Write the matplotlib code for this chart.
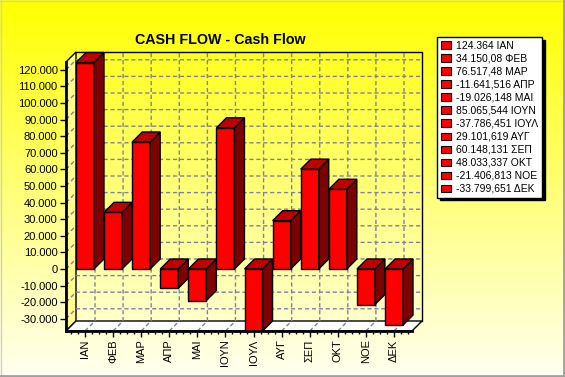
import numpy as np
import matplotlib
matplotlib.use('Agg')
import matplotlib.pyplot as plt
from matplotlib.patches import Polygon, Patch
from matplotlib.lines import Line2D

# data
months = ['ΙΑΝ', 'ΦΕΒ', 'ΜΑΡ', 'ΑΠΡ', 'ΜΑΙ', 'ΙΟΥΝ', 'ΙΟΥΛ', 'ΑΥΓ', 'ΣΕΠ', 'ΟΚΤ', 'ΝΟΕ', 'ΔΕΚ']
cash = [124364, 34150.08, 76517.48, -11641.516, -19026.148, 85065.544,
        -37786.451, 29101.619, 60148.131, 48033.337, -21406.813, -33799.651]
legend_labels = ['124.364 ΙΑΝ', '34.150,08 ΦΕΒ', '76.517,48 ΜΑΡ', '-11.641,516 ΑΠΡ',
                 '-19.026,148 ΜΑΙ', '85.065,544 ΙΟΥΝ', '-37.786,451 ΙΟΥΛ', '29.101,619 ΑΥΓ',
                 '60.148,131 ΣΕΠ', '48.033,337 ΟΚΤ', '-21.406,813 ΝΟΕ', '-33.799,651 ΔΕΚ']
yticks = list(range(-30000, 120001, 10000))
ytick_labels = [f'{t:,}'.replace(',', '.') for t in yticks]

plt.rcParams['font.family'] = ['Liberation Sans', 'DejaVu Sans']

W, H = 565, 377
fig = plt.figure(figsize=(W / 100, H / 100), dpi=100)

# yellow gradient background
bg = fig.add_axes([0, 0, 1, 1], zorder=-10)
fade = np.linspace(0, 0.94, 200)[:, None, None]
img = np.concatenate([np.ones((200, 1, 1)), np.ones((200, 1, 1)), fade], axis=2)
bg.imshow(img, aspect='auto', extent=[0, 1, 0, 1], origin='upper')
bg.axis('off')

# front plane of the pseudo-3D plot
ax = fig.add_axes([66 / W, (H - 331) / H, 346 / W, 269 / H])
ax.patch.set_visible(False)
x0, x1 = -0.676, 11.64
y0, y1 = -37350, 124700
ax.set_xlim(x0, x1)
ax.set_ylim(y0, y1)

# depth of 10px right / 10px up, in data units
o = ax.transData.transform((0, 0))
ddx, ddy = ax.transData.inverted().transform(o + np.array([10, 10]))

grid_kw = dict(color='#8080A0', lw=1, ls=(0, (3, 2)), clip_on=False, zorder=1.5)

# walls and floor
ax.add_patch(Polygon([(x0, y0), (x0 + ddx, y0 + ddy), (x0 + ddx, y1 + ddy), (x0, y1)],
                     fc='#FFFF90', ec='black', lw=1, clip_on=False, zorder=1))
ax.add_patch(Polygon([(x0, y0), (x1, y0), (x1 + ddx, y0 + ddy), (x0 + ddx, y0 + ddy)],
                     fc='white', ec='black', lw=1, clip_on=False, zorder=1))
ax.plot([x0 + ddx, x1 + ddx, x1 + ddx], [y1 + ddy, y1 + ddy, y0 + ddy],
        color='black', lw=1, clip_on=False, zorder=1.6)

for t in yticks:
    ax.plot([x0, x0 + ddx, x1 + ddx], [t, t + ddy, t + ddy], **grid_kw)
for i in range(len(months)):
    ax.plot([i, i + ddx, i + ddx], [y0, y0 + ddy, y1 + ddy], **grid_kw)

# bars
w = 0.64
for i, v in enumerate(cash):
    ax.bar(i, v, width=w, color='#FF0000', edgecolor='black', linewidth=1, zorder=3)
    xl, xr = i - w / 2, i + w / 2
    lo = max(min(v, 0), y0)
    hi = max(v, 0)
    ax.add_patch(Polygon([(xr, lo), (xr + ddx, lo + ddy), (xr + ddx, hi + ddy), (xr, hi)],
                         fc='#7F0000', ec='black', lw=1, clip_on=False, zorder=3))
    ax.add_patch(Polygon([(xl, hi), (xr, hi), (xr + ddx, hi + ddy), (xl + ddx, hi + ddy)],
                         fc='#BF0000', ec='black', lw=1, clip_on=False, zorder=3))

for s in ['top', 'right']:
    ax.spines[s].set_visible(False)
for s in ['left', 'bottom']:
    ax.spines[s].set_linewidth(2)
    ax.spines[s].set_zorder(4)

ax.set_yticks(yticks, ytick_labels)
ax.set_xticks(range(len(months)), months, rotation=90)
ax.set_xticks(np.arange(-0.5, 11.6, 0.25), minor=True)
ax.tick_params(axis='both', length=4, width=1, labelsize=8, pad=2)
ax.tick_params(axis='x', which='minor', length=2, width=1)

fig.text(220 / W, 1 - 40 / H, 'CASH FLOW - Cash Flow', ha='center', va='center',
         fontsize=10.3, fontweight='bold')

handles = [Patch(fc='#FF0000', ec='black', lw=0.8) for _ in cash]
leg = fig.legend(handles, legend_labels, loc='upper left',
                 bbox_to_anchor=(437 / W, 1 - 37 / H), frameon=True, fancybox=False,
                 edgecolor='black', framealpha=1, shadow={'color': 'black', 'alpha': 1},
                 fontsize=7.5, handlelength=1.0, handleheight=0.7, handletextpad=0.5,
                 labelspacing=0.29, borderpad=0.35, borderaxespad=0)
leg.get_frame().set_linewidth(1)

# window border
fig.add_artist(Line2D([0, 1], [1 - 0.5 / H] * 2, color='#D0D0D0', lw=1))
fig.add_artist(Line2D([0.5 / W] * 2, [0, 1], color='#D0D0D0', lw=1))
fig.add_artist(Line2D([1 - 1.5 / W] * 2, [0, 1], color='#A0A0A0', lw=2))
fig.add_artist(Line2D([0, 1], [1.5 / H] * 2, color='#A0A0A0', lw=2))

fig.savefig('out.png', dpi=100)
